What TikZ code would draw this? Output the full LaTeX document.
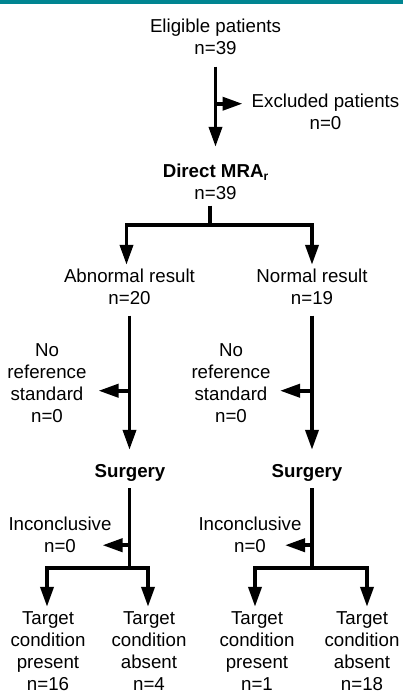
\documentclass[tikz,border=0pt]{standalone}
\usepackage{fontspec}
\setmainfont{Liberation Sans}
\usetikzlibrary{arrows.meta,calc}
\definecolor{barteal}{RGB}{0,133,145}
\begin{document}
\begin{tikzpicture}[x=1pt,y=1pt,
  lbl/.style={anchor=north, align=center, inner sep=0pt, font=\fontsize{18.7}{21.8}\selectfont},
  conn/.style={line width=3.7pt},
  arr/.style={conn, -{Triangle[length=20pt,width=13pt]}}]
\useasboundingbox (0,0) rectangle (403,694);
\fill[barteal] (0,690) rectangle (403,694);
% nodes
\node[lbl] (elig) at (215.5,675.2) {Eligible patients\\n=39};
\node[lbl] (excl) at (325.5,600.2) {Excluded patients\\n=0};
\node[lbl] (mra) at (215.5,530.2) {{\bfseries Direct MRA\raisebox{-0.3ex}{\fontsize{12}{12}\selectfont r}}\\n=39};
\node[lbl] (abn) at (129.5,425.2) {Abnormal result\\n=20};
\node[lbl] (norm) at (312,425.2) {Normal result\\n=19};
\node[lbl] (noref1) at (47,350.2) {No\\reference\\standard\\n=0};
\node[lbl] (noref2) at (231,350.2) {No\\reference\\standard\\n=0};
\node[lbl] (surg1) at (130,230.2) {\bfseries Surgery};
\node[lbl] (surg2) at (307,230.2) {\bfseries Surgery};
\node[lbl] (inc1) at (60,177.2) {Inconclusive\\n=0};
\node[lbl] (inc2) at (250,177.2) {Inconclusive\\n=0};
\node[lbl] (t1) at (48,82.2) {Target\\condition\\present\\n=16};
\node[lbl] (t2) at (149,82.2) {Target\\condition\\absent\\n=4};
\node[lbl] (t3) at (257,82.2) {Target\\condition\\present\\n=1};
\node[lbl] (t4) at (362,82.2) {Target\\condition\\absent\\n=18};
% top
\draw[arr] ([yshift=-12pt]elig.south) -- ([yshift=17pt]mra.north);
\coordinate (j0) at ($(elig.south)+(0,-49)$);
\draw[arr] (j0) -- ($(j0)+(27,0)$);
% first branch
\coordinate (b1) at (210,469);
\draw[conn] ($(mra.south -| b1)+(0,-6)$) -- (b1);
\draw[arr] (b1) -| ($(abn.north)+(-3,4)$);
\draw[arr] (b1) -| ($(norm.north)+(0,4)$);
% left column
\draw[arr] ([yshift=-11pt]abn.south) -- ($(abn.south |- surg1.north)+(0,14)$);
\coordinate (j1) at ($(abn.south)+(0,-86)$);
\draw[arr] (j1) -- ($(j1)+(-31,0)$);
% right column
\draw[arr] ([yshift=-11pt]norm.south) -- ($(norm.south |- surg2.north)+(0,14)$);
\coordinate (j2) at ($(norm.south)+(0,-86)$);
\draw[arr] (j2) -- ($(j2)+(-32,0)$);
% surgery left
\coordinate (k1) at ($(abn.south |- surg1.south)+(0,-87)$);
\draw[conn] ($(abn.south |- surg1.south)+(0,-7)$) -- (k1);
\coordinate (m1) at ($(abn.south |- surg1.south)+(0,-64)$);
\draw[arr] (m1) -- ($(m1)+(-27,0)$);
\draw[arr] (k1) -| ($(t1.north)+(-1,5)$);
\draw[arr] (k1) -| ($(t2.north)+(-1,5)$);
% surgery right
\coordinate (k2) at ($(norm.south |- surg2.south)+(0,-87)$);
\draw[conn] ($(norm.south |- surg2.south)+(0,-7)$) -- (k2);
\coordinate (m2) at ($(norm.south |- surg2.south)+(0,-64)$);
\draw[arr] (m2) -- ($(m2)+(-27,0)$);
\draw[arr] (k2) -| ($(t3.north)+(-2,5)$);
\draw[arr] (k2) -| ($(t4.north)+(5,5)$);
\end{tikzpicture}
\end{document}
